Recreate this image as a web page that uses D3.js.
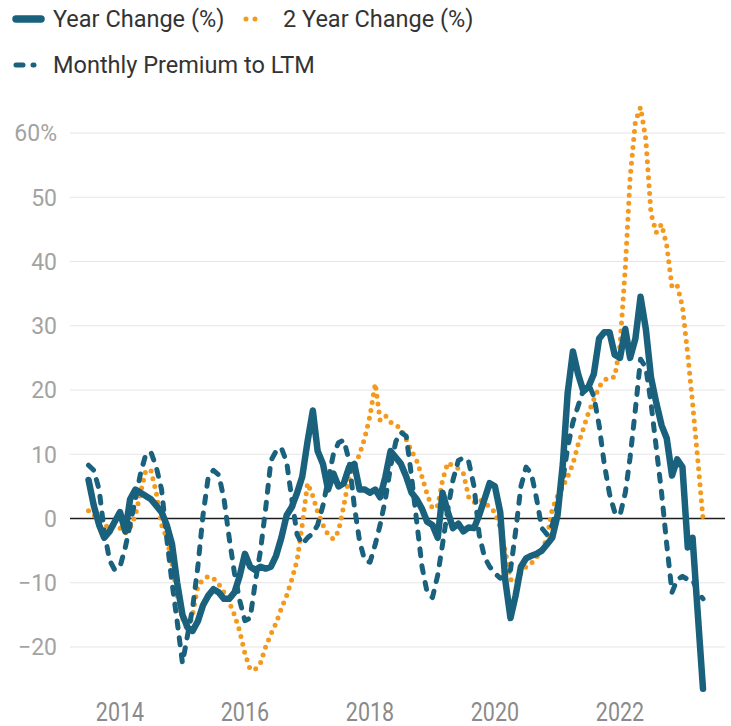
<!DOCTYPE html>
<html>
<head>
<meta charset="utf-8">
<script src="https://cdn.jsdelivr.net/npm/d3@7"></script>
<style>
  body { margin: 0; background: #fff; }
  svg { display: block; font-family: Roboto, sans-serif; }
</style>
</head>
<body>
<svg id="chart"></svg>
<script>
const BLUE =   '#1a617d';
const ORANGE = '#f39a1e';
const GRID =   '#e6e6e6';
const AXIS_TXT = '#a3a3a3';
const X_TXT =  '#8a8a8a';

// monthly, Jul 2013 .. May 2023
const startMonth = new Date(2013, 6, 1);
const endMonth = new Date(2023, 5, 1);

const yearChange = [
  6, 2, -1, -3, -2, -0.5, 1, -2, 3, 4.5,
  4, 3.5, 3, 2, 1, -1, -4, -10, -15, -17,
  -17.5, -16, -13.5, -12, -11, -11.5, -12.5, -12.5, -11.5, -9,
  -5.5, -7.5, -8, -7.5, -7.8, -7.5, -5.8, -3, 0.5, 1.8,
  4, 6.5, 12, 16.8, 10.5, 8.5, 4.5, 7, 5, 5.5,
  8, 8.5, 4.5, 4.5, 4, 4.5, 3.3, 6.5, 10.5, 9.5,
  8.5, 6.5, 4, 3, 1.5, -0.5, -1, -3, 4, 1,
  -1.5, -0.8, -2, -1.4, -1.5, 0.5, 3, 5.5, 5, 1,
  -9.5, -15.5, -12, -7.5, -6.2, -5.8, -5.5, -5, -4, -3,
  0.5, 8.5, 19.5, 26, 22.5, 19.8, 20.5, 22.5, 28, 29,
  29, 25.5, 25, 29.5, 25, 28, 34.5, 29.5, 22, 18,
  14.5, 12.5, 6.7, 9.2, 8, -4.5, -3, -15, -26.5
];

const twoYearChange = [
  1.2, 0.5, -0.5, -1, -1.5, -1, -1.5, -2.3, -1.5, 0.5,
  4, 7.5, 7.5, 4, -1, -3, -7, -12, -15.5, -17.5,
  -15, -10.5, -9.5, -9, -9.3, -10.2, -11.5, -13, -15, -17.5,
  -21, -23.5, -23.5, -22.5, -20, -18, -16.3, -14, -12, -9.5,
  -6.5, -1, 5.5, 3.5, 1, -1, -2.5, -3.2, -2, 2,
  6.5, 8, 10, 12.5, 16, 21, 15.3, 16, 15, 14.5,
  14, 12.3, 10.5, 9, 6.5, 3.8, 1.5, 2, 6, 8.7,
  8.2, 7.8, 7, 3.3, 2.5, 3, 2.5, 1.8, 1, -1.5,
  -5, -9.5, -10, -8.5, -7.5, -7, -6, -5, -3, 1.5,
  3.5, 5, 6.5, 8.5, 11.5, 14, 16.5, 18.5, 20.5, 21.5,
  22, 22, 27, 39, 53, 61.8, 64, 59, 47.5, 44.5,
  45.8, 42.5, 36, 36.3, 33, 25.5, 18, 9, 0
];

const monthlyPremium = [
  8.3, 7.5, 4.5, -2, -6.5, -8, -7.5, -4.5, -1, 3,
  7, 10, 10.3, 8, 4.5, -3, -10, -16, -22.5, -18,
  -14, -7.5, 0.5, 6.5, 7.5, 6.8, 3, -3, -8.5, -12.7,
  -15.9, -15.5, -10, -5, 1.5, 9, 10.5, 11, 8.8, 3,
  -2.5, -4, -3, -2.3, -1, 2, 6, 10, 11.8, 12.2,
  9, 2, -3.5, -6.5, -6.8, -4, -1, 3, 8, 12,
  13.4, 12.8, 6.5, -0.5, -7.5, -11.5, -12.3, -8.8, -4, 1.5,
  6, 9, 9.5, 8.8, 5, -2.5, -6, -7.5, -8.5, -9.3,
  -9, -8, -2, 5, 8, 7, 3, -1.5, -2.5, -1,
  2, 6, 11, 15, 17.5, 20, 21, 19, 14.5, 8.5,
  3.8, 1, 0.5, 4, 9.5, 17, 24.8, 23.5, 18, 11,
  4, -4, -11.5, -9.5, -9, -9.5, -9.5, -11.5, -12.5
];

const yTicks = [-20, -10, 0, 10, 20, 30, 40, 50, 60];
const xTickYears = [2014, 2016, 2018, 2020, 2022];

const seriesNames = ['Year Change (%)', '2 Year Change (%)', 'Monthly Premium to LTM'];

function draw_chart() {

    const width = 731;
    const height = 726;

    const months = d3.timeMonth.range(startMonth, endMonth);

    const x = d3.scaleTime()
        .domain([new Date(2014, 0, 1), new Date(2022, 0, 1)])
        .range([120, 620]);

    const y = d3.scaleLinear()
        .domain([-20, 60])
        .range([647, 133]);

    const gridLeft = 70;
    const gridRight = 725;

    const svg = d3.select("svg#chart")
        .attr("width", width)
        .attr("height", height)
        .attr("viewBox", [0, 0, width, height]);

    // grid lines
    svg.append("g")
        .selectAll("line")
        .data(yTicks.filter(d => d !== 0))
        .join("line")
        .attr("x1", gridLeft)
        .attr("x2", gridRight)
        .attr("y1", d => y(d))
        .attr("y2", d => y(d))
        .attr("stroke", GRID)
        .attr("stroke-width", 1.2);

    svg.append("line")
        .attr("x1", gridLeft)
        .attr("x2", gridRight)
        .attr("y1", y(0))
        .attr("y2", y(0))
        .attr("stroke", "#1e1e1e")
        .attr("stroke-width", 1.3);

    // y labels
    svg.append("g")
        .selectAll("text")
        .data(yTicks)
        .join("text")
        .attr("x", 57)
        .attr("y", d => y(d))
        .attr("dy", "0.36em")
        .attr("text-anchor", "end")
        .attr("fill", AXIS_TXT)
        .style("font-size", "23px")
        .text(d => d === 60 ? d + "%" : (d < 0 ? "\u2212" + Math.abs(d) : d));

    // x labels
    svg.append("g")
        .selectAll("text")
        .data(xTickYears)
        .join("text")
        .attr("transform", d => `translate(${x(new Date(d, 0, 1))},721) scale(0.86,1)`)
        .attr("text-anchor", "middle")
        .attr("fill", X_TXT)
        .style("font-size", "25px")
        .text(d => d);

    const line = (vals) => d3.line()
        .x((d, i) => x(months[i]))
        .y(d => y(d))(vals);

    svg.append("path")
        .attr("d", line(twoYearChange))
        .attr("fill", "none")
        .attr("stroke", ORANGE)
        .attr("stroke-width", 5)
        .attr("stroke-linecap", "round")
        .attr("stroke-dasharray", "0,8");

    svg.append("path")
        .attr("d", line(monthlyPremium))
        .attr("fill", "none")
        .attr("stroke", BLUE)
        .attr("stroke-width", 5)
        .attr("stroke-linecap", "round")
        .attr("stroke-linejoin", "round")
        .attr("stroke-dasharray", "7,10");

    svg.append("path")
        .attr("d", line(yearChange))
        .attr("fill", "none")
        .attr("stroke", BLUE)
        .attr("stroke-width", 6.5)
        .attr("stroke-linecap", "round")
        .attr("stroke-linejoin", "round");

    // legend
    const legend = svg.append("g");
    const items = [
        {name: seriesNames[0], x: 13, y: 19, w: 7.5, dash: null, color: BLUE},
        {name: seriesNames[1], x: 243, y: 19, w: 5, dash: "0,9", color: ORANGE},
        {name: seriesNames[2], x: 13, y: 65, w: 5, dash: "7,10", color: BLUE}
    ];

    const li = legend.selectAll("g")
        .data(items)
        .join("g")
        .attr("transform", d => `translate(${d.x},${d.y})`);

    li.append("line")
        .attr("x1", 3)
        .attr("x2", d => d.dash ? 21 : 28)
        .attr("stroke", d => d.color)
        .attr("stroke-width", d => d.w)
        .attr("stroke-linecap", "round")
        .attr("stroke-dasharray", d => d.dash);

    li.append("text")
        .attr("x", 40)
        .attr("dy", "0.36em")
        .attr("fill", "#333")
        .style("font-size", "23.5px")
        .text(d => d.name);
}

draw_chart();
</script>
</body>
</html>
